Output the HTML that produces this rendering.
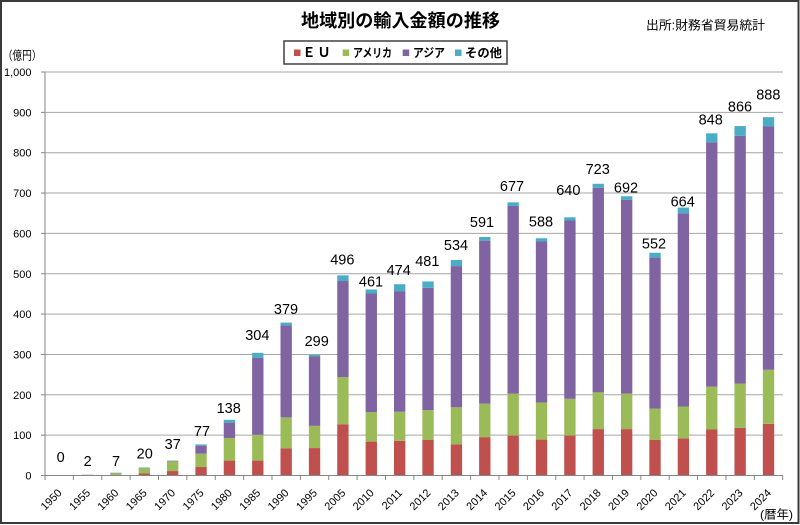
<!DOCTYPE html>
<html><head><meta charset="utf-8"><style>
html,body{margin:0;padding:0;background:#fff;}
svg{display:block;}
.lat{font-family:"Liberation Sans",sans-serif;}
.jp{font-family:"Liberation Sans","Noto Sans CJK JP",sans-serif;}
</style></head><body>
<svg width="800" height="525" viewBox="0 0 800 525" xmlns="http://www.w3.org/2000/svg">
<rect x="0" y="0" width="800" height="525" fill="#fff"/>
<rect x="1" y="1" width="797.5" height="522" fill="none" stroke="#3a3a3a" stroke-width="2"/>

<!-- title -->
<text class="jp" x="301" y="26.8" font-size="18" font-weight="bold" textLength="199" lengthAdjust="spacingAndGlyphs" fill="#000">地域別の輸入金額の推移</text>
<text class="jp" x="646" y="29.7" font-size="12.5" textLength="119" lengthAdjust="spacingAndGlyphs" fill="#000">出所:財務省貿易統計</text>
<text class="jp" x="2.7" y="59.5" font-size="12" textLength="39" lengthAdjust="spacingAndGlyphs" fill="#000">（億円）</text>
<text class="jp" x="760" y="518.5" font-size="12" textLength="33" lengthAdjust="spacingAndGlyphs" fill="#000">(暦年)</text>

<!-- gridlines -->
<g stroke="#a6a6a6" stroke-width="1">
<line x1="45" x2="783" y1="435.15" y2="435.15"/>
<line x1="45" x2="783" y1="394.8" y2="394.8"/>
<line x1="45" x2="783" y1="354.45" y2="354.45"/>
<line x1="45" x2="783" y1="314.1" y2="314.1"/>
<line x1="45" x2="783" y1="273.75" y2="273.75"/>
<line x1="45" x2="783" y1="233.4" y2="233.4"/>
<line x1="45" x2="783" y1="193.05" y2="193.05"/>
<line x1="45" x2="783" y1="152.7" y2="152.7"/>
<line x1="45" x2="783" y1="112.35" y2="112.35"/>
<line x1="45" x2="783" y1="72" y2="72"/>
</g>

<!-- legend -->
<rect x="284" y="41" width="223" height="23" fill="#fff" stroke="#404040" stroke-width="1.5"/>
<rect x="294" y="49.5" width="6.5" height="6.5" fill="#C0504D"/>
<text class="jp" x="309" y="57" font-size="13" font-weight="bold" text-anchor="middle" fill="#000">Ｅ</text>
<text class="jp" x="324" y="57" font-size="13" font-weight="bold" text-anchor="middle" fill="#000">Ｕ</text>
<rect x="342.7" y="49.5" width="6.5" height="6.5" fill="#9BBB59"/>
<text class="jp" x="353" y="57" font-size="12" font-weight="bold" textLength="39" lengthAdjust="spacingAndGlyphs" fill="#000">アメリカ</text>
<rect x="402.7" y="49.5" width="6.5" height="6.5" fill="#8064A2"/>
<text class="jp" x="413" y="57" font-size="12" font-weight="bold" textLength="32" lengthAdjust="spacingAndGlyphs" fill="#000">アジア</text>
<rect x="455" y="49.5" width="6.5" height="6.5" fill="#4BACC6"/>
<text class="jp" x="465" y="57" font-size="12" font-weight="bold" textLength="37" lengthAdjust="spacingAndGlyphs" fill="#000">その他</text>

<!-- bars: data coords -->
<g transform="translate(45,475.5) scale(28.373,-0.4035)">
<g fill="#C0504D">
<rect x="1.3" width="0.4" y="0" height="0.3"/>
<rect x="2.3" width="0.4" y="0" height="0.7"/>
<rect x="3.3" width="0.4" y="0" height="5"/>
<rect x="4.3" width="0.4" y="0" height="11"/>
<rect x="5.3" width="0.4" y="0" height="21"/>
<rect x="6.3" width="0.4" y="0" height="37"/>
<rect x="7.3" width="0.4" y="0" height="37"/>
<rect x="8.3" width="0.4" y="0" height="67"/>
<rect x="9.3" width="0.4" y="0" height="68"/>
<rect x="10.3" width="0.4" y="0" height="127"/>
<rect x="11.3" width="0.4" y="0" height="84"/>
<rect x="12.3" width="0.4" y="0" height="86"/>
<rect x="13.3" width="0.4" y="0" height="88"/>
<rect x="14.3" width="0.4" y="0" height="77"/>
<rect x="15.3" width="0.4" y="0" height="95"/>
<rect x="16.3" width="0.4" y="0" height="99"/>
<rect x="17.3" width="0.4" y="0" height="89"/>
<rect x="18.3" width="0.4" y="0" height="99"/>
<rect x="19.3" width="0.4" y="0" height="115"/>
<rect x="20.3" width="0.4" y="0" height="115"/>
<rect x="21.3" width="0.4" y="0" height="88"/>
<rect x="22.3" width="0.4" y="0" height="92"/>
<rect x="23.3" width="0.4" y="0" height="114"/>
<rect x="24.3" width="0.4" y="0" height="118"/>
<rect x="25.3" width="0.4" y="0" height="128"/>
</g>
<g fill="#9BBB59">
<rect x="1.3" width="0.4" y="0.3" height="1"/>
<rect x="2.3" width="0.4" y="0.7" height="5"/>
<rect x="3.3" width="0.4" y="5" height="13"/>
<rect x="4.3" width="0.4" y="11" height="24"/>
<rect x="5.3" width="0.4" y="21" height="33"/>
<rect x="6.3" width="0.4" y="37" height="56"/>
<rect x="7.3" width="0.4" y="37" height="64"/>
<rect x="8.3" width="0.4" y="67" height="77"/>
<rect x="9.3" width="0.4" y="68" height="55"/>
<rect x="10.3" width="0.4" y="127" height="117"/>
<rect x="11.3" width="0.4" y="84" height="73"/>
<rect x="12.3" width="0.4" y="86" height="72"/>
<rect x="13.3" width="0.4" y="88" height="74"/>
<rect x="14.3" width="0.4" y="77" height="92"/>
<rect x="15.3" width="0.4" y="95" height="83"/>
<rect x="16.3" width="0.4" y="99" height="104"/>
<rect x="17.3" width="0.4" y="89" height="92"/>
<rect x="18.3" width="0.4" y="99" height="91"/>
<rect x="19.3" width="0.4" y="115" height="91"/>
<rect x="20.3" width="0.4" y="115" height="88"/>
<rect x="21.3" width="0.4" y="88" height="78"/>
<rect x="22.3" width="0.4" y="92" height="79"/>
<rect x="23.3" width="0.4" y="114" height="106"/>
<rect x="24.3" width="0.4" y="118" height="110"/>
<rect x="25.3" width="0.4" y="128" height="134"/>
</g>
<g fill="#8064A2">
<rect x="1.3" width="0.4" y="1.3" height="0.3"/>
<rect x="2.3" width="0.4" y="5.7" height="0.8"/>
<rect x="3.3" width="0.4" y="18" height="1"/>
<rect x="4.3" width="0.4" y="35" height="1"/>
<rect x="5.3" width="0.4" y="54" height="20"/>
<rect x="6.3" width="0.4" y="93" height="38"/>
<rect x="7.3" width="0.4" y="101" height="191"/>
<rect x="8.3" width="0.4" y="144" height="228"/>
<rect x="9.3" width="0.4" y="123" height="172"/>
<rect x="10.3" width="0.4" y="244" height="238"/>
<rect x="11.3" width="0.4" y="157" height="294"/>
<rect x="12.3" width="0.4" y="158" height="299"/>
<rect x="13.3" width="0.4" y="162" height="303"/>
<rect x="14.3" width="0.4" y="169" height="350"/>
<rect x="15.3" width="0.4" y="178" height="404"/>
<rect x="16.3" width="0.4" y="203" height="465"/>
<rect x="17.3" width="0.4" y="181" height="399"/>
<rect x="18.3" width="0.4" y="190" height="442"/>
<rect x="19.3" width="0.4" y="206" height="507"/>
<rect x="20.3" width="0.4" y="203" height="480"/>
<rect x="21.3" width="0.4" y="166" height="374"/>
<rect x="22.3" width="0.4" y="171" height="479"/>
<rect x="23.3" width="0.4" y="220" height="606"/>
<rect x="24.3" width="0.4" y="228" height="614"/>
<rect x="25.3" width="0.4" y="262" height="603"/>
</g>
<g fill="#4BACC6">
<rect x="1.3" width="0.4" y="1.6" height="0.4"/>
<rect x="2.3" width="0.4" y="6.5" height="0.5"/>
<rect x="3.3" width="0.4" y="19" height="1"/>
<rect x="4.3" width="0.4" y="36" height="1"/>
<rect x="5.3" width="0.4" y="74" height="3"/>
<rect x="6.3" width="0.4" y="131" height="7"/>
<rect x="7.3" width="0.4" y="292" height="12"/>
<rect x="8.3" width="0.4" y="372" height="7"/>
<rect x="9.3" width="0.4" y="295" height="4"/>
<rect x="10.3" width="0.4" y="482" height="14"/>
<rect x="11.3" width="0.4" y="451" height="10"/>
<rect x="12.3" width="0.4" y="457" height="17"/>
<rect x="13.3" width="0.4" y="465" height="16"/>
<rect x="14.3" width="0.4" y="519" height="15"/>
<rect x="15.3" width="0.4" y="582" height="9"/>
<rect x="16.3" width="0.4" y="668" height="9"/>
<rect x="17.3" width="0.4" y="580" height="8"/>
<rect x="18.3" width="0.4" y="632" height="8"/>
<rect x="19.3" width="0.4" y="713" height="10"/>
<rect x="20.3" width="0.4" y="683" height="9"/>
<rect x="21.3" width="0.4" y="540" height="12"/>
<rect x="22.3" width="0.4" y="650" height="14"/>
<rect x="23.3" width="0.4" y="826" height="22"/>
<rect x="24.3" width="0.4" y="842" height="24"/>
<rect x="25.3" width="0.4" y="865" height="23"/>
</g>
</g>

<!-- axes -->
<g stroke="#868686" stroke-width="1">
<line x1="45" x2="45" y1="72" y2="475.5"/>
<line x1="45" x2="783" y1="475.5" y2="475.5"/>
<line x1="41" x2="45" y1="475.5" y2="475.5"/>
<line x1="41" x2="45" y1="435.15" y2="435.15"/>
<line x1="41" x2="45" y1="394.8" y2="394.8"/>
<line x1="41" x2="45" y1="354.45" y2="354.45"/>
<line x1="41" x2="45" y1="314.1" y2="314.1"/>
<line x1="41" x2="45" y1="273.75" y2="273.75"/>
<line x1="41" x2="45" y1="233.4" y2="233.4"/>
<line x1="41" x2="45" y1="193.05" y2="193.05"/>
<line x1="41" x2="45" y1="152.7" y2="152.7"/>
<line x1="41" x2="45" y1="112.35" y2="112.35"/>
<line x1="41" x2="45" y1="72" y2="72"/>
<line x1="45" x2="45" y1="475.5" y2="480"/>
<line x1="73.37" x2="73.37" y1="475.5" y2="480"/>
<line x1="101.75" x2="101.75" y1="475.5" y2="480"/>
<line x1="130.12" x2="130.12" y1="475.5" y2="480"/>
<line x1="158.49" x2="158.49" y1="475.5" y2="480"/>
<line x1="186.87" x2="186.87" y1="475.5" y2="480"/>
<line x1="215.24" x2="215.24" y1="475.5" y2="480"/>
<line x1="243.61" x2="243.61" y1="475.5" y2="480"/>
<line x1="271.98" x2="271.98" y1="475.5" y2="480"/>
<line x1="300.36" x2="300.36" y1="475.5" y2="480"/>
<line x1="328.73" x2="328.73" y1="475.5" y2="480"/>
<line x1="357.10" x2="357.10" y1="475.5" y2="480"/>
<line x1="385.48" x2="385.48" y1="475.5" y2="480"/>
<line x1="413.85" x2="413.85" y1="475.5" y2="480"/>
<line x1="442.22" x2="442.22" y1="475.5" y2="480"/>
<line x1="470.60" x2="470.60" y1="475.5" y2="480"/>
<line x1="498.97" x2="498.97" y1="475.5" y2="480"/>
<line x1="527.34" x2="527.34" y1="475.5" y2="480"/>
<line x1="555.71" x2="555.71" y1="475.5" y2="480"/>
<line x1="584.09" x2="584.09" y1="475.5" y2="480"/>
<line x1="612.46" x2="612.46" y1="475.5" y2="480"/>
<line x1="640.83" x2="640.83" y1="475.5" y2="480"/>
<line x1="669.21" x2="669.21" y1="475.5" y2="480"/>
<line x1="697.58" x2="697.58" y1="475.5" y2="480"/>
<line x1="725.95" x2="725.95" y1="475.5" y2="480"/>
<line x1="754.33" x2="754.33" y1="475.5" y2="480"/>
<line x1="782.7" x2="782.7" y1="475.5" y2="480"/>
</g>

<!-- y tick labels -->
<g class="lat" font-size="11" fill="#000" text-anchor="end">
<text x="31.5" y="479.5">0</text>
<text x="31.5" y="439.15">100</text>
<text x="31.5" y="398.8">200</text>
<text x="31.5" y="358.45">300</text>
<text x="31.5" y="318.1">400</text>
<text x="31.5" y="277.75">500</text>
<text x="31.5" y="237.4">600</text>
<text x="31.5" y="197.05">700</text>
<text x="31.5" y="156.7">800</text>
<text x="31.5" y="116.35">900</text>
<text x="31.5" y="76">1,000</text>
</g>

<!-- x tick labels -->
<g class="lat" font-size="11" fill="#000" text-anchor="end">
<text transform="translate(62.5,493.5) rotate(-45)">1950</text>
<text transform="translate(90.9,493.5) rotate(-45)">1955</text>
<text transform="translate(119.2,493.5) rotate(-45)">1960</text>
<text transform="translate(147.6,493.5) rotate(-45)">1965</text>
<text transform="translate(176.0,493.5) rotate(-45)">1970</text>
<text transform="translate(204.4,493.5) rotate(-45)">1975</text>
<text transform="translate(232.7,493.5) rotate(-45)">1980</text>
<text transform="translate(261.1,493.5) rotate(-45)">1985</text>
<text transform="translate(289.5,493.5) rotate(-45)">1990</text>
<text transform="translate(317.8,493.5) rotate(-45)">1995</text>
<text transform="translate(346.2,493.5) rotate(-45)">2005</text>
<text transform="translate(374.6,493.5) rotate(-45)">2010</text>
<text transform="translate(403.0,493.5) rotate(-45)">2011</text>
<text transform="translate(431.3,493.5) rotate(-45)">2012</text>
<text transform="translate(459.7,493.5) rotate(-45)">2013</text>
<text transform="translate(488.1,493.5) rotate(-45)">2014</text>
<text transform="translate(516.5,493.5) rotate(-45)">2015</text>
<text transform="translate(544.8,493.5) rotate(-45)">2016</text>
<text transform="translate(573.2,493.5) rotate(-45)">2017</text>
<text transform="translate(601.6,493.5) rotate(-45)">2018</text>
<text transform="translate(629.9,493.5) rotate(-45)">2019</text>
<text transform="translate(658.3,493.5) rotate(-45)">2020</text>
<text transform="translate(686.7,493.5) rotate(-45)">2021</text>
<text transform="translate(715.1,493.5) rotate(-45)">2022</text>
<text transform="translate(743.4,493.5) rotate(-45)">2023</text>
<text transform="translate(771.8,493.5) rotate(-45)">2024</text>
</g>

<!-- data labels -->
<g class="lat" font-size="14.5" fill="#000" text-anchor="middle">
<text x="60.7" y="461.9">0</text>
<text x="87.7" y="466.2">2</text>
<text x="116" y="466.2">7</text>
<text x="144.7" y="458.5">20</text>
<text x="172.7" y="449.2">37</text>
<text x="202" y="436.2">77</text>
<text x="228.7" y="412.9">138</text>
<text x="257.3" y="340.2">304</text>
<text x="286" y="313.9">379</text>
<text x="316.7" y="346.2">299</text>
<text x="342.3" y="264.5">496</text>
<text x="371" y="286.5">461</text>
<text x="398.7" y="275.2">474</text>
<text x="427.3" y="266.2">481</text>
<text x="456" y="250.2">534</text>
<text x="482" y="227.2">591</text>
<text x="512" y="191.2">677</text>
<text x="541" y="226.5">588</text>
<text x="568.3" y="195.2">640</text>
<text x="597.7" y="173.9">723</text>
<text x="626" y="192.5">692</text>
<text x="654" y="248.5">552</text>
<text x="682.7" y="206.5">664</text>
<text x="710.7" y="124.7">848</text>
<text x="740" y="111.7">866</text>
<text x="768.3" y="99.7">888</text>
</g>
</svg>
</body></html>
